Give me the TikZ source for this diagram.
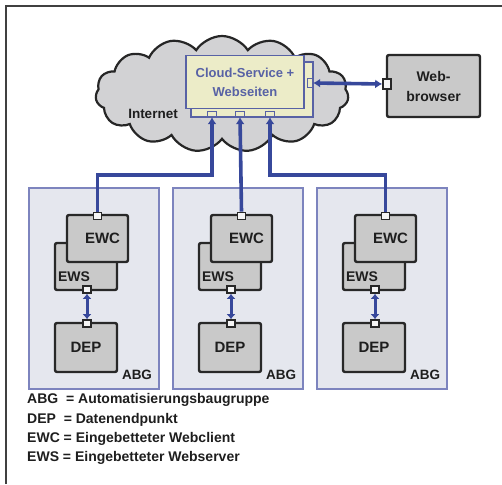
\documentclass[tikz,border=0pt]{standalone}
\usepackage{fontspec}
\setmainfont{Liberation Sans}
\usetikzlibrary{shapes.symbols,arrows.meta}
\definecolor{conncol}{RGB}{55,72,155}
\definecolor{abgfill}{RGB}{229,231,238}
\definecolor{abgdraw}{RGB}{125,132,190}
\definecolor{boxfill}{RGB}{201,201,201}
\definecolor{boxdraw}{RGB}{40,40,40}
\definecolor{csfill}{RGB}{236,236,200}
\definecolor{csdraw}{RGB}{88,98,165}
\definecolor{cloudfill}{RGB}{210,210,212}
\definecolor{txtcol}{RGB}{30,30,30}
\tikzset{
  conn/.style={draw=conncol,line width=3.6pt},
  abgbox/.style={draw=abgdraw,fill=abgfill,line width=1.6pt,minimum width=130pt,minimum height=201pt,inner sep=0pt,anchor=north west},
  graybox/.style={draw=boxdraw,fill=boxfill,line width=2.4pt,rounded corners=2pt,inner sep=0pt,minimum width=61pt,minimum height=47pt,font=\fontsize{15}{18}\selectfont\bfseries,text=txtcol},
  gport/.style={draw=boxdraw,fill=white!92!gray,line width=1.6pt,inner sep=0pt,minimum width=8pt,minimum height=7pt},
  csbox/.style={draw=csdraw,fill=csfill,line width=1.6pt,inner sep=0pt},
  csport/.style={draw=csdraw,fill=csfill,line width=1.3pt,inner sep=0pt,minimum width=9pt,minimum height=5pt},
  lbl/.style={font=\fontsize{13.5}{16}\selectfont\bfseries,text=txtcol,inner sep=0pt},
  legend/.style={font=\fontsize{14}{16}\selectfont\bfseries,text=txtcol,inner sep=0pt,anchor=west},
  tip/.style={-{Latex[length=7pt,width=9pt]}},
  dtip/.style={{Latex[length=7pt,width=9pt]}-{Latex[length=7pt,width=9pt]}},
  stip/.style={{Latex[length=5pt,width=9pt]}-{Latex[length=5pt,width=9pt]}}
}
\begin{document}
\begin{tikzpicture}[x=1pt,y=-1pt]
\useasboundingbox (0,0) rectangle (502,484);
\fill[white] (0,0) rectangle (502,484);
% frame
\draw[draw=black!75,line width=1.5pt] (6,484) -- (6,6) -- (502,6);
% cloud
\node[cloud,cloud puffs=15,cloud puff arc=115,aspect=2.1,draw=black!85,fill=cloudfill,line width=2.2pt,minimum width=253pt,minimum height=116pt,inner sep=0pt] (cloud) at (222,94) {};
\node[lbl] (internet) at (153,114) {Internet};
% cloud service
\node[csbox,minimum width=122pt,minimum height=55pt] (csback) at (252,89.5) {};
\node[csbox,minimum width=118pt,minimum height=53pt,align=center,font=\fontsize{13}{19}\selectfont\bfseries,text=csdraw] (cs) at (245,82) {Cloud-Service +\\Webseiten};
\node[csport] (cp1) at (212,114) {};
\node[csport] (cp2) at (240,114) {};
\node[csport] (cp3) at (270,114) {};
\node[csport,minimum width=5pt,minimum height=9pt] (cpr) at (310,83) {};
% web browser
\node[graybox,minimum width=93pt,minimum height=62pt,align=center,font=\fontsize{14}{20}\selectfont\bfseries] (wb) at (433.5,86) {Web-\\browser};
\node[gport,minimum width=8pt,minimum height=10pt] (wbp) at (387,84) {};
\draw[conn,dtip] (cpr.east) -- (wbp.west);
% ABG groups
\foreach \i/\dx in {1/0,2/144,3/288}{
  \node[abgbox] (abg\i) at (28+\dx,187) {};
  \node[lbl] (abgl\i) at (137+\dx,375) {ABG};
  \node[graybox,minimum width=62pt,minimum height=47pt] (ews\i) at (86+\dx,266.5) {};
  \node[lbl,font=\fontsize{14}{16}\selectfont\bfseries] (ewsl\i) at (74+\dx,277) {EWS};
  \node[graybox] (ewc\i) at (97.5+\dx,238.5) {\hspace*{10pt}EWC};
  \node[graybox,minimum width=62pt,minimum height=49pt] (dep\i) at (86+\dx,347.5) {\raisebox{-2pt}{DEP}};
  \node[gport] (ewcp\i) at (97.5+\dx,216) {};
  \node[gport] (ewsp\i) at (87+\dx,289.5) {};
  \node[gport] (depp\i) at (87+\dx,323.5) {};
  \draw[conn,stip,line width=3pt] (ewsp\i.south) -- (depp\i.north);
}
% connections to the cloud
\coordinate (j1) at (212,175);
\coordinate (j3) at (270,175);
\draw[conn,tip] (ewcp1.north) |- (j1) -- (cp1.south);
\draw[conn,tip] (ewcp2.north) -- (cp2.south);
\draw[conn,tip] (ewcp3.north) |- (j3) -- (cp3.south);
% legend
\node[legend] (lg1) at (27,400) {ABG\ \ = Automatisierungsbaugruppe};
\node[legend] (lg2) at (27,420) {DEP\ \ = Datenendpunkt};
\node[legend] (lg3) at (27,439) {EWC = Eingebetteter Webclient};
\node[legend] (lg4) at (27,458) {EWS = Eingebetteter Webserver};
\end{tikzpicture}
\end{document}
